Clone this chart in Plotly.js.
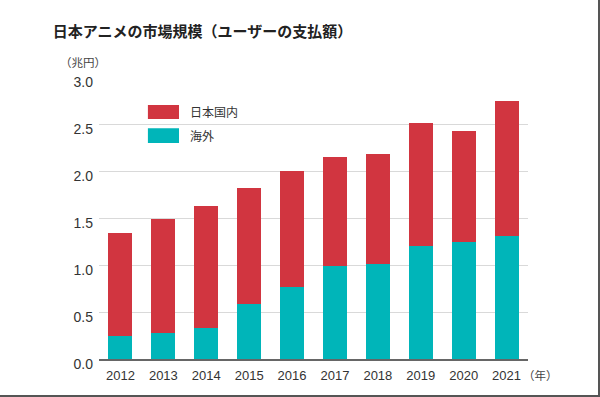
<!DOCTYPE html>
<html>
<head>
<meta charset="utf-8">
<script src="https://cdn.plot.ly/plotly-3.0.1.min.js"></script>
<style>
  html, body { margin: 0; padding: 0; background: #fff; }
  #wrap { position: relative; width: 600px; height: 397px; }
  #chart { width: 600px; height: 397px; }
  #frame { position: absolute; left: 0; top: 0; width: 600px; height: 397px; box-sizing: border-box;
           border-right: 2px solid #555; border-bottom: 2px solid #555; pointer-events: none; }
</style>
</head>
<body>
<div id="wrap"><div id="chart"></div><div id="frame"></div></div>
<script>
const years = ['2012','2013','2014','2015','2016','2017','2018','2019','2020','2021'];
const overseas = [0.24, 0.28, 0.33, 0.58, 0.77, 0.99, 1.01, 1.20, 1.24, 1.31];
const domestic = [1.10, 1.21, 1.30, 1.24, 1.23, 1.16, 1.17, 1.31, 1.19, 1.43];
const seriesNames = ['日本国内', '海外'];
const seriesColors = ['#d13540', '#00b5b9'];
const yTicks = [0, 0.5, 1.0, 1.5, 2.0, 2.5, 3.0];
const yTickText = ['0.0', '0.5', '1.0', '1.5', '2.0', '2.5', '3.0'];
const titleText = '日本アニメの市場規模（ユーザーの支払額）';
const yUnit = '（兆円）';
const xUnit = '（年）';

const FONT = 'Liberation Sans, Arial, Noto Sans CJK JP, sans-serif';
const CJK = 'Noto Sans CJK JP, sans-serif';

const traces = [
  { type: 'bar', x: years, y: overseas, name: seriesNames[1], marker: { color: seriesColors[1] }, hoverinfo: 'x+y+name' },
  { type: 'bar', x: years, y: domestic, name: seriesNames[0], marker: { color: seriesColors[0] }, hoverinfo: 'x+y+name' }
];

// custom legend (rectangles + labels) in paper coordinates
const legendItems = [
  { name: seriesNames[0], color: seriesColors[0], y0: 0.851, y1: 0.901, ty: 0.876 },
  { name: seriesNames[1], color: seriesColors[1], y0: 0.766, y1: 0.818, ty: 0.793 }
];
const shapes = legendItems.map(it => ({
  type: 'rect', xref: 'paper', yref: 'paper', x0: 0.114, x1: 0.1865, y0: it.y0, y1: it.y1,
  fillcolor: it.color, line: { width: 0 }, layer: 'above'
}));
const annotations = legendItems.map(it => ({
  xref: 'paper', yref: 'paper', x: 0.207, y: it.ty, xanchor: 'left', yanchor: 'middle',
  text: it.name, showarrow: false, font: { family: CJK, size: 12, color: '#333' }
}));
annotations.push({
  xref: 'paper', yref: 'paper', x: -0.037, y: 1.053, xanchor: 'center', yanchor: 'middle',
  text: yUnit, showarrow: false, font: { family: CJK, size: 11.5, color: '#444' }
});
annotations.push({
  xref: 'paper', yref: 'paper', x: 0.984, y: -0.058, xanchor: 'left', yanchor: 'middle',
  text: xUnit, showarrow: false, font: { family: CJK, size: 11.5, color: '#444' }
});

const layout = {
  width: 600, height: 397,
  margin: { l: 99, r: 72, t: 77, b: 37.5, pad: 0 },
  paper_bgcolor: '#fff', plot_bgcolor: '#fff',
  barmode: 'stack', bargap: 0.44,
  showlegend: false,
  title: {
    text: '<b>' + titleText + '</b>', xref: 'container', yref: 'container',
    x: 0.088, xanchor: 'left', y: 1 - 32 / 397, yanchor: 'middle',
    font: { family: CJK, size: 15, color: '#222' }
  },
  xaxis: {
    type: 'category', range: [-0.5, 9.5],
    showline: true, linecolor: '#666', linewidth: 2, ticks: '', showgrid: false,
    ticklabelstandoff: 3,
    tickfont: { family: FONT, size: 13, color: '#333' }, fixedrange: true
  },
  yaxis: {
    range: [0, 3.0], tickvals: yTicks, ticktext: yTickText,
    showgrid: true, gridcolor: '#d9d9d9', gridwidth: 1, zeroline: false,
    ticks: '', ticklabelstandoff: 5, ticklabelshift: 5, showline: false,
    tickfont: { family: FONT, size: 14, color: '#333' }, fixedrange: true
  },
  shapes: shapes,
  annotations: annotations
};

Plotly.newPlot('chart', traces, layout, { displayModeBar: false, staticPlot: true });
</script>
</body>
</html>
